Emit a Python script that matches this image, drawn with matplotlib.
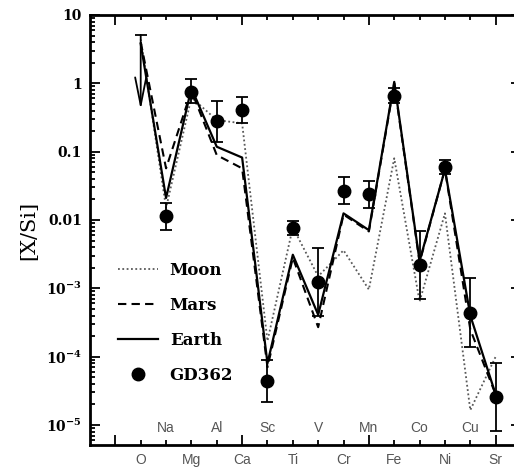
import numpy as np
import matplotlib
matplotlib.use('Agg')
import matplotlib.pyplot as plt
from matplotlib.ticker import LogLocator, NullFormatter, FixedLocator
from matplotlib.transforms import blended_transform_factory

plt.rcParams['mathtext.fontset'] = 'dejavuserif'

# element order along x
elements = ['O', 'Na', 'Mg', 'Al', 'Ca', 'Sc', 'Ti', 'V', 'Cr', 'Mn', 'Fe', 'Co', 'Ni', 'Cu', 'Sr']

# bulk compositions relative to Si
earth = [3.8, 0.021, 0.85, 0.118, 0.082, 8.0e-5, 0.0031, 4.1e-4, 0.0125, 0.0071, 1.05, 0.0025, 0.055, 4.0e-4, 2.8e-5]
mars = [4.0, 0.057, 0.78, 0.089, 0.057, 7.0e-5, 0.0028, 2.7e-4, 0.012, 0.0068, 1.0, 0.0024, 0.055, 2.5e-4, 2.8e-5]
moon = [4.4, 0.015, 0.62, 0.29, 0.26, 1.7e-4, 0.0078, 0.0015, 0.0036, 9.6e-4, 0.08, 6.4e-4, 0.0125, 1.65e-5, 1.0e-4]

# GD362 measurements (O is only an upper limit)
gd362 = [np.nan, 0.0114, 0.75, 0.28, 0.406, 4.4e-5, 0.0077, 0.00124, 0.0268, 0.0237, 0.66, 0.00219, 0.060, 4.3e-4, 2.6e-5]
gd_hi = [np.nan, 0.0179, 1.16, 0.557, 0.64, 8.9e-5, 0.0096, 0.0039, 0.043, 0.0375, 0.845, 0.0070, 0.0753, 0.0014, 8.2e-5]
gd_lo = [np.nan, 0.0071, 0.52, 0.14, 0.26, 2.2e-5, 0.0060, 3.9e-4, 0.0171, 0.0151, 0.52, 7.0e-4, 0.0466, 1.39e-4, 8.1e-6]
o_limit = 5.1
o_arrow_end = 0.41

ytick_vals = [10, 1, 0.1, 0.01, 1e-3, 1e-4, 1e-5]
ytick_labels = ['10', '1', '0.1', '0.01', r'$\mathbf{10^{-3}}$', r'$\mathbf{10^{-4}}$', r'$\mathbf{10^{-5}}$']

fig = plt.figure(figsize=(5.14, 4.68), dpi=100)
ax = fig.add_axes([90/514, 23/468, 431/514, 430/468])

x = np.arange(len(elements))
gd = np.array(gd362)
lo = np.array(gd_lo)
hi = np.array(gd_hi)

ax.plot(x, moon, color='0.35', lw=1.3, linestyle=(0, (1, 1.4)), label='Moon')
ax.plot(x, mars, color='k', lw=1.5, dashes=(4, 2.5), label='Mars')
ax.plot(x, earth, color='k', lw=1.6, label='Earth')

ax.errorbar(x, gd, yerr=[gd - lo, hi - gd], fmt='none', ecolor='k',
            elinewidth=1.3, capsize=4.5, capthick=1.3)
ax.plot(x, gd, 'o', color='k', ms=9, label='GD362')

# upper limit for O
ax.annotate('', xy=(0, o_arrow_end), xytext=(0, o_limit),
            arrowprops=dict(arrowstyle='->,head_length=2.0,head_width=0.4',
                            color='k', lw=1.3, shrinkA=0, shrinkB=0))
ax.plot([0], [o_limit], marker='_', ms=9, mew=1.3, color='k')

ax.set_yscale('log')
ax.set_ylim(10**-5.293, 10)
ax.set_xlim(-2, 15)

ax.set_yticks(ytick_vals)
ax.set_yticklabels(ytick_labels, family='DejaVu Serif', weight='bold', fontsize=10)
ax.yaxis.set_minor_locator(LogLocator(base=10, subs=np.arange(2, 10)))
ax.yaxis.set_minor_formatter(NullFormatter())

ax.xaxis.set_major_locator(FixedLocator([-1, 4, 9, 14]))
ax.xaxis.set_minor_locator(FixedLocator(np.arange(-1, 15)))
ax.set_xticklabels([])

ax.tick_params(which='both', direction='in', top=True, right=True, width=1.3, pad=5.8)
ax.tick_params(which='major', length=7.2)
ax.tick_params(which='minor', length=3.6)
for s in ax.spines.values():
    s.set_linewidth(2.0)

trans = blended_transform_factory(ax.transData, ax.transAxes)
for i, e in enumerate(elements):
    if i % 2 == 0:
        ax.text(i, -15/430, e, transform=trans, ha='center', va='center',
                fontsize=10, family='Liberation Sans', color='#555555', clip_on=False)
    else:
        ax.text(i, 17/430, e, transform=trans, ha='center', va='center',
                fontsize=10, family='Liberation Sans', color='#555555')

ax.set_ylabel('[X/Si]', fontsize=15, family='DejaVu Serif')
ax.yaxis.set_label_coords((38 - 90)/431, 0.5)

ax.legend(loc='upper left', bbox_to_anchor=(0.065, 0.425), frameon=False,
          prop=dict(family='DejaVu Serif', weight='bold', size=12),
          handlelength=2.4, handletextpad=0.7, labelspacing=1.07,
          borderpad=0, borderaxespad=0)

fig.savefig('out.png', dpi=100)
